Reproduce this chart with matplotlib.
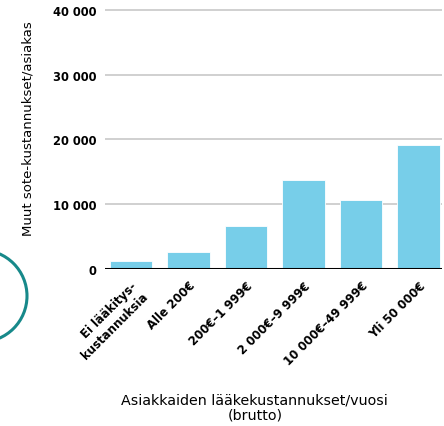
import matplotlib.pyplot as plt
from matplotlib.patches import Circle

# Luokat ja arvot (luettu kuvasta)
luokat = ['Ei lääkitys-\nkustannuksia', 'Alle 200€', '200€–1 999€',
          '2 000€–9 999€', '10 000€–49 999€', 'Yli 50 000€']
kustannukset = [1300, 2600, 6700, 13700, 10700, 19100]
y_tikit = [0, 10000, 20000, 30000, 40000]
y_tikkitekstit = ['0', '10 000', '20 000', '30 000', '40 000']

fig = plt.figure(figsize=(4.44, 4.27), dpi=100)
ax = fig.add_axes([0.2365, 0.3677, 0.7585, 0.6133])

x = range(len(luokat))
ax.bar(x, kustannukset, width=0.74, color='#77cee9', edgecolor='white',
       linewidth=0.6, zorder=3)

ax.set_xlim(-0.45, 5.4)
ax.set_ylim(0, 40400)
ax.set_yticks(y_tikit)
ax.set_yticklabels(y_tikkitekstit, fontsize=8.3, fontweight='bold')
ax.yaxis.grid(True, color='#c8c8c8', linewidth=1.2, zorder=0)
ax.tick_params(axis='y', length=0, pad=6)
ax.axhline(0, color='black', linewidth=2.2, zorder=4)

ax.set_xticks(list(x))
ax.set_xticklabels(luokat, rotation=45, ha='right', va='top',
                   rotation_mode='anchor', fontsize=8.5, fontweight='bold',
                   linespacing=1.15)
ax.tick_params(axis='x', length=0, pad=7)

for s in ax.spines.values():
    s.set_visible(False)

ax.set_ylabel('Muut sote-kustannukset/asiakas', fontsize=9.5)
ax.yaxis.set_label_coords(-0.228, 0.54)
ax.yaxis.label.set_va('center')

fig.text(0.574, 1 - 394 / 427, 'Asiakkaiden lääkekustannukset/vuosi\n(brutto)',
         ha='center', va='top', fontsize=10.3, linespacing=1.05)

# Turkoosi kaari vasemmassa reunassa
ympyra = Circle((-19, 427 - 297), 46, transform=None, fill=False,
                edgecolor='#17898a', linewidth=2.2)
fig.patches.append(ympyra)

fig.savefig('out.png', dpi=100)
